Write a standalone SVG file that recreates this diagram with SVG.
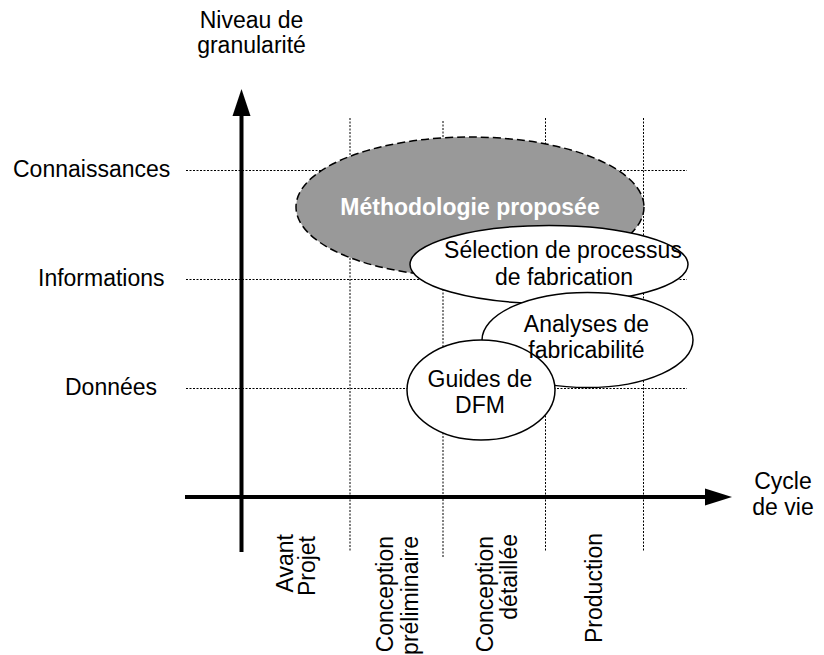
<svg xmlns="http://www.w3.org/2000/svg" width="824" height="655" viewBox="0 0 824 655">
<defs>
<style>
text{font-family:"Liberation Sans",Arial,sans-serif;font-size:23px;fill:#000}
.mid{text-anchor:middle}
.end{text-anchor:end}
.grid{stroke:#000;stroke-width:1;stroke-dasharray:2 1.5;fill:none}
.axis{stroke:#000;stroke-width:4;fill:none}
.node{fill:#fff;stroke:#000;stroke-width:1.5}
.method{fill:#999;stroke:#000;stroke-width:1.5;stroke-dasharray:8 4}
.bold{font-weight:bold;fill:#fff}
</style>
</defs>
<rect width="824" height="655" fill="#fff"/>
<g id="grid">
<line class="grid" x1="186" y1="170.5" x2="687" y2="170.5"/>
<line class="grid" x1="186" y1="279.5" x2="687" y2="279.5"/>
<line class="grid" x1="186" y1="388.5" x2="687" y2="388.5"/>
<line class="grid" x1="350" y1="118" x2="350" y2="552"/>
<line class="grid" x1="443" y1="121" x2="443" y2="557"/>
<line class="grid" x1="545.5" y1="118" x2="545.5" y2="552"/>
<line class="grid" x1="643.5" y1="118" x2="643.5" y2="552"/>
</g>
<g id="connectors">
<line class="axis" x1="241.5" y1="552" x2="241.5" y2="113"/>
<polygon points="241.5,89 232.5,116 250.5,116" fill="#000"/>
<line class="axis" x1="185" y1="497" x2="708" y2="497"/>
<polygon points="732,497 705,488.5 705,505.5" fill="#000"/>
</g>
<g id="methodologie">
<ellipse class="method" cx="470" cy="207" rx="174" ry="70"/>
</g>
<g id="selection">
<ellipse class="node" cx="549" cy="264.5" rx="139" ry="39"/>
</g>
<g id="analyses">
<ellipse class="node" cx="587.5" cy="340" rx="105.5" ry="47.5"/>
</g>
<g id="guides">
<ellipse class="node" cx="481" cy="390" rx="74" ry="50"/>
</g>
<g id="labels">
<text class="mid bold" x="470" y="215">Méthodologie proposée</text>
<text class="mid" x="563" y="258">Sélection de processus</text>
<text class="mid" x="564" y="285">de fabrication</text>
<text class="mid" x="586.5" y="332">Analyses de</text>
<text class="mid" x="586.5" y="358">fabricabilité</text>
<text class="mid" x="480" y="387">Guides de</text>
<text class="mid" x="480" y="413">DFM</text>
<text class="mid" x="251.5" y="28">Niveau de</text>
<text class="mid" x="251.5" y="53">granularité</text>
<text class="mid" x="783" y="489">Cycle</text>
<text class="mid" x="783" y="515">de vie</text>
<text x="13" y="177">Connaissances</text>
<text x="38" y="286">Informations</text>
<text x="65" y="395">Données</text>
<text class="end" transform="translate(292.5,534) rotate(-90)">Avant</text>
<text class="end" transform="translate(315,536) rotate(-90)">Projet</text>
<text class="end" transform="translate(392.5,536) rotate(-90)">Conception</text>
<text class="end" transform="translate(418,536) rotate(-90)">préliminaire</text>
<text class="end" transform="translate(493,536) rotate(-90)">Conception</text>
<text class="end" transform="translate(517,534) rotate(-90)">détaillée</text>
<text class="end" transform="translate(602,533) rotate(-90)">Production</text>
</g>
</svg>
